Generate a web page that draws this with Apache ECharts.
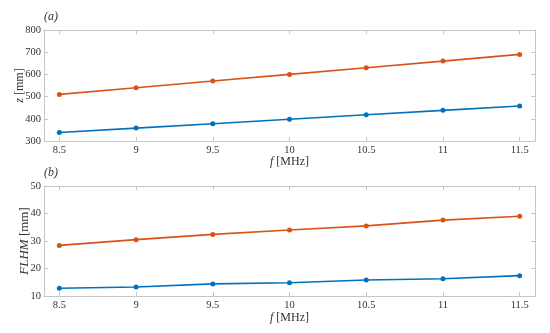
<!DOCTYPE html>
<html><head><meta charset="utf-8">
<script src="https://cdn.jsdelivr.net/npm/echarts@6/dist/echarts.min.js"></script>
<style>html,body{margin:0;padding:0;background:#fff}#c{width:550px;height:333px}</style>
</head><body><div id="c"></div>
<script>
const freqs = [8.5, 9, 9.5, 10, 10.5, 11, 11.5];
const zOrange = [510, 540, 570, 600, 630, 660, 690];
const zBlue = [338, 358, 378, 398, 418, 438, 458];
const flhmOrange = [28.4, 30.5, 32.4, 34.0, 35.5, 37.6, 39.0];
const flhmBlue = [12.8, 13.3, 14.4, 14.8, 15.8, 16.3, 17.4];
const xTicks = [8.5, 9, 9.5, 10, 10.5, 11, 11.5];

const FONT = '"Liberation Serif", "DejaVu Serif", serif';
const AX = '#c6c6c6';
const TXT = '#333';
const BLUE = '#0072BD', ORANGE = '#D95319';

function pairs(xs, ys){ return xs.map((x,i)=>[x, ys[i]]); }

function yAxis(grid, pos, labels, min, max, interval, name, gap, nsize){
  const fs = nsize || 12;
  return {
    type:'value', gridIndex:grid, position:pos, min:min, max:max, interval:interval,
    axisLine:{show:true, lineStyle:{color:AX, width:1}},
    axisTick:{show:true, inside:true, length:4, lineStyle:{color:AX}},
    splitLine:{show:false},
    axisLabel:{show:labels, color:TXT, fontFamily:FONT, fontSize:10.5, margin:3},
    name: name||'', nameLocation:'middle', nameGap:gap||28, nameMoveOverlap:false,
    nameTextStyle:{color:TXT, fontFamily:FONT, fontSize:fs, rich:{i:{fontStyle:'italic', fontFamily:FONT, fontSize:fs, color:TXT}}}
  };
}

function xAxisTicks(grid, pos, labels, name, gap){
  return {
    type:'value', gridIndex:grid, position:pos, min:8.4, max:11.6,
    axisLine:{show:true, lineStyle:{color:AX, width:1}},
    axisTick:{show:true, inside:true, length:4, lineStyle:{color:AX}, customValues:xTicks},
    axisLabel:{show:labels, color:TXT, fontFamily:FONT, fontSize:10.5, margin:4, customValues:xTicks,
      formatter:function(v){return String(v);}},
    splitLine:{show:false},
    name: name||'', nameLocation:'middle', nameGap:gap||16, nameMoveOverlap:false,
    nameTextStyle:{color:TXT, fontFamily:FONT, fontSize:12, rich:{i:{fontStyle:'italic', fontFamily:FONT, fontSize:12, color:TXT}}}
  };
}

const chart = echarts.init(document.getElementById('c'), null, {renderer:'canvas'});
const lineSeries = (xi, yi, data, color) => ({
  type:'line', xAxisIndex:xi, yAxisIndex:yi, data:data,
  symbol:'circle', symbolSize:5, showSymbol:true,
  lineStyle:{color:color, width:1.6}, itemStyle:{color:color}, animation:false
});

chart.setOption({
  animation:false,
  grid:[
    {left:44, top:30, width:491, height:111, containLabel:false, outerBoundsMode:'none'},
    {left:44, top:186, width:491, height:110, containLabel:false, outerBoundsMode:'none'}
  ],
  xAxis:[
    xAxisTicks(0,'bottom',true,'{i|f} [MHz]',15),
    xAxisTicks(0,'top',false),
    xAxisTicks(1,'bottom',true,'{i|f} [MHz]',16),
    xAxisTicks(1,'top',false)
  ],
  yAxis:[
    yAxis(0,'left',true,300,800,100,'{i|z} [mm]',18,12),
    yAxis(0,'right',false,300,800,100),
    yAxis(1,'left',true,10,50,10,'{i|FLHM} [mm]',13,13),
    yAxis(1,'right',false,10,50,10)
  ],
  graphic:[
    {type:'text', left:44, top:11, style:{text:'(a)', font:'italic 12px '+FONT, fill:TXT}},
    {type:'text', left:44, top:167, style:{text:'(b)', font:'italic 12px '+FONT, fill:TXT}}
  ],
  series:[
    lineSeries(0,0,pairs(freqs,zBlue),BLUE),
    lineSeries(0,0,pairs(freqs,zOrange),ORANGE),
    lineSeries(2,2,pairs(freqs,flhmBlue),BLUE),
    lineSeries(2,2,pairs(freqs,flhmOrange),ORANGE)
  ]
});
</script></body></html>
